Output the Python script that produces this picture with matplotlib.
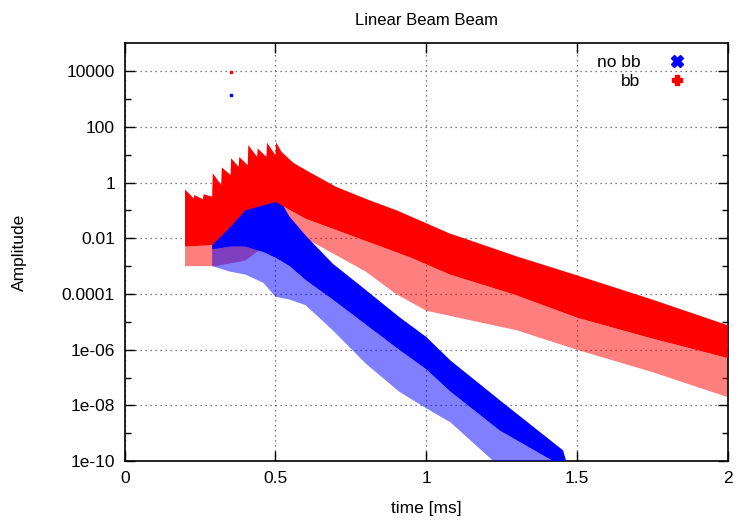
import numpy as np
import matplotlib
matplotlib.use("Agg")
import matplotlib.pyplot as plt
from matplotlib.lines import Line2D

plt.rcParams['font.family'] = ['Liberation Sans', 'DejaVu Sans']

# envelopes of the point clouds, log10(amplitude)
# bb (red): upper edge with the sawtooth before 0.5 ms
bb_top_t = [0.200, 0.200, 0.229, 0.231, 0.259, 0.262, 0.290, 0.292, 0.320, 0.322,
            0.351, 0.353, 0.378, 0.380, 0.408, 0.410, 0.439, 0.441, 0.470, 0.472,
            0.500, 0.502, 0.52, 0.56, 0.60, 0.65, 0.70, 0.81, 0.90, 1.00, 1.078,
            1.144, 1.30, 1.50, 1.75, 2.00]
bb_top_v = [-2.25, -0.25, -0.57, -0.45, -0.60, -0.42, -0.51, 0.33, -0.09, 0.54,
            0.27, 0.87, 0.56, 0.92, 0.62, 1.34, 0.92, 1.22, 0.92, 1.43,
            0.98, 1.45, 1.1, 0.7, 0.45, 0.15, -0.15, -0.63, -0.99, -1.46, -1.83,
            -2.07, -2.65, -3.33, -4.20, -5.12]
bb_core_t = [0.20, 0.29, 0.35, 0.40, 0.50, 0.60, 0.70, 0.80, 0.95, 1.078, 1.30, 1.50, 1.75, 2.00]
bb_core_v = [-2.3, -2.25, -1.6, -1.0, -0.7, -1.3, -1.7, -2.1, -2.7, -3.3, -4.05, -4.85, -5.6, -6.3]
bb_low_t = [0.20, 0.30, 0.40, 0.50, 0.60, 0.70, 0.80, 0.90, 1.00, 1.30, 1.50, 1.75, 2.00]
bb_low_v = [-3.0, -3.0, -2.8, -2.0, -2.0, -2.6, -3.2, -4.0, -4.6, -5.3, -6.0, -6.8, -7.7]

# no bb (blue)
nobb_t = [0.29, 0.35, 0.40, 0.46, 0.50, 0.547, 0.60, 0.69, 0.80, 0.91, 1.00, 1.08, 1.244, 1.454, 1.47]
nobb_top_v = [-1.8, -1.0, -0.6, -0.25, -0.35, -1.23, -1.9, -2.91, -3.86, -4.82, -5.54, -6.38, -7.81, -9.61, -10.2]
nobb_core_v = [-2.4, -2.3, -2.3, -2.5, -2.7, -3.0, -3.5, -4.2, -5.1, -6.0, -6.7, -7.5, -8.9, -10.2, -10.2]
nobb_low_v = [-3.0, -3.2, -3.3, -3.6, -4.1, -4.2, -4.4, -5.3, -6.5, -7.5, -8.1, -8.6, -10.2, -10.2, -10.2]

# a couple of stray points far above the rest
bb_stray_t, bb_stray_v = [0.352], [9000]
nobb_stray_t, nobb_stray_v = [0.351], [1400]

yticks = [1e4, 1e2, 1, 1e-2, 1e-4, 1e-6, 1e-8, 1e-10]
ylabels = ['10000', '100', '1', '0.01', '0.0001', '1e-06', '1e-08', '1e-10']


def band(ax, t_up, v_up, t_dn, v_dn, color, alpha, z):
    xs = np.concatenate([t_up, t_dn[::-1]])
    ys = 10.0 ** np.concatenate([v_up, v_dn[::-1]])
    ax.fill(xs, ys, color=color, alpha=alpha, lw=0, zorder=z)


fig = plt.figure(figsize=(7.38, 5.2), dpi=100)
ax = fig.add_axes([0.169, 0.113, 0.817, 0.804])
ax.set_yscale('log')

red = '#ff0000'
blue = '#0000ff'
bt, bc, bl = np.array(bb_top_t), np.array(bb_core_t), np.array(bb_low_t)
nt = np.array(nobb_t)

band(ax, bc, np.array(bb_core_v), bl, np.array(bb_low_v), red, 0.5, 2)
band(ax, nt, np.array(nobb_core_v), nt, np.array(nobb_low_v), blue, 0.5, 3)
band(ax, nt, np.array(nobb_top_v), nt, np.array(nobb_core_v), blue, 1.0, 4)
band(ax, bt, np.array(bb_top_v), bc, np.array(bb_core_v), red, 1.0, 5)

ax.scatter(nobb_stray_t, nobb_stray_v, s=2, color=blue, marker='s', zorder=6)
ax.scatter(bb_stray_t, bb_stray_v, s=2, color=red, marker='s', zorder=6)

ax.set_xlim(0, 2)
ax.set_ylim(1e-10, 1e5)
ax.set_xticks([0, 0.5, 1, 1.5, 2])
ax.set_xticklabels(['0', '0.5', '1', '1.5', '2'])
ax.set_yticks(yticks)
ax.set_yticklabels(ylabels)
ax.set_yticks([10.0 ** k for k in range(-9, 5, 2)], minor=True)
ax.yaxis.set_minor_formatter(matplotlib.ticker.NullFormatter())
ax.tick_params(which='both', direction='in', top=True, right=True, labelsize=12.5, pad=7)
ax.tick_params(which='major', length=7, width=1)
ax.tick_params(which='minor', length=4, width=1)
ax.grid(True, which='major', linestyle=(0, (1, 3)), color='#555555', lw=0.9)
ax.set_axisbelow(True)
for s in ax.spines.values():
    s.set_linewidth(1.2)

ax.set_xlabel('time [ms]', fontsize=12.5, labelpad=11)
ax.set_ylabel('Amplitude', fontsize=12.5, labelpad=25)
ax.set_title('Linear Beam Beam', fontsize=12, pad=13)

handles = [Line2D([], [], ls='none', marker='X', ms=8, color=blue),
           Line2D([], [], ls='none', marker='P', ms=7, color=red)]
ax.legend(handles, ['no bb', 'bb'], loc='upper right', frameon=False, markerfirst=False,
          fontsize=12.5, handletextpad=1.1, labelspacing=0.18, borderaxespad=0.3,
          bbox_to_anchor=(0.965, 1.0))

fig.savefig('out.png', dpi=100)
